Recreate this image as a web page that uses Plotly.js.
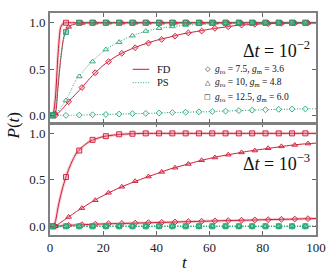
<!DOCTYPE html>
<html><head><meta charset="utf-8">
<script src="https://cdn.plot.ly/plotly-3.0.1.min.js"></script>
<style>html,body{margin:0;padding:0;background:#fff}#chart{width:332px;height:277px}</style>
</head><body><div id="chart"></div>
<script>
// time grids
const tLine = [0,1,2,3,4,5,6,7,8,9,10,12,15,20,25,30,35,40,45,50,55,60,65,70,75,80,85,90,95,100];
const tMarkA = [1,6,11,16,21,26,31,36,41,46,51,56,61,66,71,76,81,86,91,96];
const tMarkB = [2,7,12,17,22,27,32,37,42,47,52,57,62,67,72,77,82,87,92,97];

// Top panel, dt = 1e-2
const fdSqTopLine = [0,0,0.18,0.65,0.95,0.995,1,1,1,1,1,1,1,1,1,1,1,1,1,1,1,1,1,1,1,1,1,1,1,1];
const fdSqTopMark = [0,1,1,1,1,1,1,1,1,1,1,1,1,1,1,1,1,1,1,1];
const fdTriTopLine = [0,0,0.02,0.3,0.6,0.82,0.92,0.955,0.972,0.982,0.99,0.997,1,1,1,1,1,1,1,1,1,1,1,1,1,1,1,1,1,1];
const fdTriTopMark = [0.02,0.955,0.997,1,1,1,1,1,1,1,1,1,1,1,1,1,1,1,1,1];
const fdDiaTopLine = [0,0,0,0.02,0.05,0.08,0.115,0.147,0.18,0.21,0.24,0.30,0.40,0.54,0.64,0.71,0.765,0.81,0.845,0.88,0.905,0.93,0.95,0.97,0.98,0.988,0.993,0.996,0.998,1.0];
const fdDiaTopMark = [0,0.147,0.30,0.46,0.58,0.67,0.73,0.78,0.82,0.855,0.89,0.91,0.94,0.957,0.975,0.984,0.99,0.995,0.997,0.999];
const psSqTopLine = [0,0,0.04,0.33,0.62,0.8,0.9,0.95,0.975,0.988,0.995,1,1,1,1,1,1,1,1,1,1,1,1,1,1,1,1,1,1,1];
const psSqTopMark = [0,0.9,0.998,1,1,1,1,1,1,1,1,1,1,1,1,1,1,1,1,1];
const psTriTopLine = [0,0,0.01,0.04,0.08,0.12,0.165,0.22,0.28,0.34,0.39,0.46,0.56,0.69,0.78,0.85,0.90,0.935,0.955,0.97,0.98,0.987,0.99,0.994,0.996,0.997,0.998,0.999,1,1];
const psTriTopMark = [0,0.16,0.42,0.58,0.71,0.79,0.86,0.91,0.94,0.96,0.975,0.985,0.99,0.993,0.995,0.997,0.998,0.999,1,1];
const psDiaTopLine = [0,0,0,0,0,0,0,0,0.001,0.002,0.003,0.004,0.006,0.01,0.013,0.017,0.02,0.025,0.03,0.033,0.037,0.04,0.046,0.05,0.055,0.06,0.064,0.067,0.07,0.072];
const psDiaTopMark = [0,0,0.003,0.007,0.01,0.014,0.018,0.021,0.026,0.03,0.034,0.038,0.042,0.046,0.051,0.056,0.061,0.065,0.068,0.07];

// Bottom panel, dt = 1e-3
const fdSqBotLine = [0,0,0.05,0.2,0.33,0.44,0.53,0.61,0.68,0.74,0.79,0.85,0.915,0.965,0.985,0.995,1,1,1,1,1,1,1,1,1,1,1,1,1,1];
const fdSqBotMark = [0,0.53,0.815,0.93,0.97,0.99,0.996,1,1,1,1,1,1,1,1,1,1,1,1,1];
const fdTriBotLine = [0,0,0,0.02,0.04,0.06,0.08,0.10,0.12,0.14,0.16,0.195,0.25,0.33,0.40,0.46,0.515,0.565,0.615,0.655,0.695,0.73,0.76,0.785,0.81,0.83,0.85,0.87,0.885,0.895];
const fdTriBotMark = [0,0.10,0.195,0.28,0.36,0.425,0.485,0.535,0.585,0.63,0.67,0.71,0.74,0.77,0.795,0.815,0.84,0.86,0.875,0.89];
const fdDiaBotLine = [0,0,0,0.002,0.004,0.006,0.008,0.01,0.011,0.013,0.014,0.017,0.02,0.025,0.029,0.032,0.036,0.04,0.044,0.048,0.052,0.056,0.06,0.063,0.066,0.07,0.073,0.076,0.08,0.083];
const fdDiaBotMark = [0,0.01,0.017,0.022,0.027,0.03,0.034,0.039,0.042,0.046,0.05,0.054,0.058,0.061,0.065,0.068,0.071,0.075,0.078,0.082];
const psSqBotLine = [0,0,0,0,0,0,0,0,0,0,0,0,0,0,0,0,0,0,0,0,0,0,0,0,0,0,0,0,0,0];
const psSqBotMark = [0,0,0,0,0,0,0,0,0,0,0,0,0,0,0,0,0,0,0,0];
const psTriBotLine = [0,0,0,0,0,0,0,0,0,0,0,0,0,0,0,0,0,0,0,0,0,0,0,0,0,0,0,0,0,0];
const psTriBotMark = [0,0,0,0,0,0,0,0,0,0,0,0,0,0,0,0,0,0,0,0];
const psDiaBotLine = [0,0,0,0,0,0,0,0,0,0,0,0,0,0,0,0,0,0,0,0,0,0,0,0,0,0,0,0,0,0];
const psDiaBotMark = [0,0,0,0,0,0,0,0,0,0,0,0,0,0,0,0,0,0,0,0];

const tickVX = [0,20,40,60,80,100];
const tickTX = ['0','20','40','60','80','100'];
const tickVY = [0,0.5,1];
const tickTY = ['0.0','0.5','1.0'];

const RED = '#cc1a36';
const RED_FILL = 'rgba(235,130,145,0.35)';
const RED_BAND = 'rgba(214,60,85,0.25)';
const GRN = '#22a673';
const GRN_FILL = 'rgba(34,166,115,0.45)';
const GRN_OPEN = 'rgba(255,255,255,0.5)';
const SERIF = 'Liberation Serif, Times New Roman, serif';

const traces = [];
function fd(xa, ya, yLine, tm, yMark, sym, size, band) {
  if (band) traces.push({x: tLine, y: yLine, xaxis: xa, yaxis: ya, mode: 'lines',
    line: {color: RED_BAND, width: 3, shape: 'spline', smoothing: 0.6}, hoverinfo: 'skip', showlegend: false});
  traces.push({x: tLine, y: yLine, xaxis: xa, yaxis: ya, mode: 'lines',
    line: {color: RED, width: 1, shape: 'spline', smoothing: 0.6}, showlegend: false});
  traces.push({x: tm, y: yMark, xaxis: xa, yaxis: ya, mode: 'markers',
    marker: {symbol: sym, size: size, color: RED_FILL, line: {color: RED, width: 0.9}}, showlegend: false});
}
function ps(xa, ya, yLine, tm, yMark, sym, size, fill) {
  traces.push({x: tLine, y: yLine, xaxis: xa, yaxis: ya, mode: 'lines',
    line: {color: GRN, width: 1, dash: '1px,1.6px', shape: 'spline', smoothing: 0.6}, showlegend: false});
  traces.push({x: tm, y: yMark, xaxis: xa, yaxis: ya, mode: 'markers',
    marker: {symbol: sym, size: size, color: fill, line: {color: GRN, width: 0.9}}, showlegend: false});
}
// top
fd('x2','y2', fdDiaTopLine, tMarkB, fdDiaTopMark, 'diamond', 4.5, false);
fd('x2','y2', fdTriTopLine, tMarkB, fdTriTopMark, 'triangle-up', 5, false);
fd('x2','y2', fdSqTopLine, tMarkA, fdSqTopMark, 'square', 5, true);
ps('x2','y2', psDiaTopLine, tMarkA, psDiaTopMark, 'diamond', 4.5, GRN_OPEN);
ps('x2','y2', psTriTopLine, tMarkA, psTriTopMark, 'triangle-up', 5, GRN_OPEN);
ps('x2','y2', psSqTopLine, tMarkA, psSqTopMark, 'square', 5, GRN_FILL);
// bottom
fd('x','y', fdDiaBotLine, tMarkB, fdDiaBotMark, 'diamond', 4.5, true);
fd('x','y', fdTriBotLine, tMarkB, fdTriBotMark, 'triangle-up', 5, false);
fd('x','y', fdSqBotLine, tMarkA, fdSqBotMark, 'square', 5, true);
ps('x','y', psDiaBotLine, tMarkA, psDiaBotMark, 'diamond', 4.5, GRN_OPEN);
ps('x','y', psTriBotLine, tMarkA, psTriBotMark, 'triangle-up', 5, GRN_OPEN);
ps('x','y', psSqBotLine, tMarkA, psSqBotMark, 'square', 5, GRN_FILL);

const axCommon = {showline: true, linecolor: '#808080', linewidth: 1.8, mirror: 'ticks',
  ticks: 'inside', ticklen: 4, tickwidth: 1, tickcolor: '#666', showgrid: false, zeroline: false,
  tickfont: {family: SERIF, size: 13, color: '#222'}};

const W = 332, H = 277, L = 50, R = 16, T = 13, B = 42;
const px = v => (v - L) / (W - L - R);
const py = v => (H - B - v) / (H - T - B);
const annFont = s => ({family: SERIF, size: s, color: '#111'});

const layout = {
  width: W, height: H, margin: {l: L, r: R, t: T, b: B},
  paper_bgcolor: '#fff', plot_bgcolor: '#fff', showlegend: false,
  xaxis: Object.assign({}, axCommon, {anchor: 'y', domain: [0,1], range: [0,100], tickvals: tickVX, ticktext: tickTX}),
  xaxis2: Object.assign({}, axCommon, {anchor: 'y2', domain: [0,1], range: [0,100], tickvals: tickVX, showticklabels: false, matches: 'x'}),
  yaxis: Object.assign({}, axCommon, {anchor: 'x', domain: [0,0.503], range: [-0.094,1.108], tickvals: tickVY, ticktext: tickTY}),
  yaxis2: Object.assign({}, axCommon, {anchor: 'x2', domain: [0.503,1], range: [-0.086,1.105], tickvals: tickVY, ticktext: tickTY}),
  shapes: [
    {type: 'line', xref: 'paper', yref: 'paper', x0: px(132.7), x1: px(149.3), y0: py(69.3), y1: py(69.3), line: {color: RED, width: 1}},
    {type: 'line', xref: 'paper', yref: 'paper', x0: px(132.7), x1: px(149.3), y0: py(82.7), y1: py(82.7), line: {color: GRN, width: 1, dash: '1px,1.6px'}}
  ],
  annotations: [
    {xref: 'paper', yref: 'paper', x: px(155), y: py(69.3), xanchor: 'left', yanchor: 'middle', showarrow: false, text: 'FD', font: annFont(10.5)},
    {xref: 'paper', yref: 'paper', x: px(155), y: py(82.7), xanchor: 'left', yanchor: 'middle', showarrow: false, text: 'PS', font: annFont(10.5)},
    {xref: 'paper', yref: 'paper', x: px(207.5), y: py(69.3), xanchor: 'center', yanchor: 'middle', showarrow: false, text: '◇', font: {family: 'DejaVu Sans', size: 7, color: '#111'}},
    {xref: 'paper', yref: 'paper', x: px(207.5), y: py(82.7), xanchor: 'center', yanchor: 'middle', showarrow: false, text: '△', font: {family: 'DejaVu Sans', size: 7, color: '#111'}},
    {xref: 'paper', yref: 'paper', x: px(207.5), y: py(97.3), xanchor: 'center', yanchor: 'middle', showarrow: false, text: '□', font: {family: 'DejaVu Sans', size: 7, color: '#111'}},
    {xref: 'paper', yref: 'paper', x: px(213), y: py(69.3), xanchor: 'left', yanchor: 'middle', showarrow: false, text: '<i>g</i><sub>ro</sub> = 7.5, <i>g</i><sub>m</sub> = 3.6', font: annFont(9.5)},
    {xref: 'paper', yref: 'paper', x: px(213), y: py(82.7), xanchor: 'left', yanchor: 'middle', showarrow: false, text: '<i>g</i><sub>ro</sub> = 10, <i>g</i><sub>m</sub> = 4.8', font: annFont(9.5)},
    {xref: 'paper', yref: 'paper', x: px(213), y: py(97.3), xanchor: 'left', yanchor: 'middle', showarrow: false, text: '<i>g</i><sub>ro</sub> = 12.5, <i>g</i><sub>m</sub> = 6.0', font: annFont(9.5)},
    {xref: 'paper', yref: 'paper', x: px(312), y: py(50), xanchor: 'right', yanchor: 'middle', showarrow: false, text: 'Δ<i>t</i> = 10<sup>−2</sup>', font: annFont(18)},
    {xref: 'paper', yref: 'paper', x: px(312), y: py(162.3), xanchor: 'right', yanchor: 'middle', showarrow: false, text: 'Δ<i>t</i> = 10<sup>−3</sup>', font: annFont(18)},
    {xref: 'paper', yref: 'paper', x: px(12.5), y: py(126), xanchor: 'center', yanchor: 'middle', showarrow: false, textangle: -90, text: '<i>P</i>(<i>t</i>)', font: annFont(17)},
    {xref: 'paper', yref: 'paper', x: px(185), y: py(262), xanchor: 'center', yanchor: 'middle', showarrow: false, text: '<i>t</i>', font: annFont(17)}
  ]
};

Plotly.newPlot('chart', traces, layout, {displayModeBar: false, staticPlot: true});
</script>
</body></html>
